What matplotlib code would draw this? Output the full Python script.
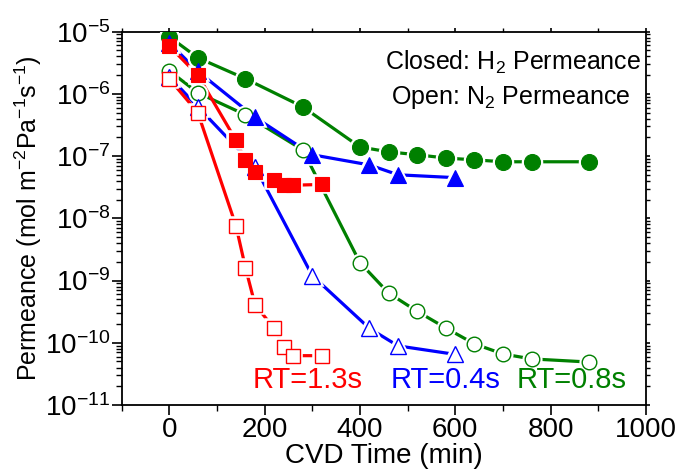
import numpy as np
import matplotlib
matplotlib.use('Agg')
import matplotlib.pyplot as plt
from matplotlib.ticker import FixedLocator, NullFormatter, LogFormatterSciNotation

plt.rcParams['font.family'] = ['Liberation Sans', 'DejaVu Sans']
plt.rcParams['mathtext.fontset'] = 'custom'
plt.rcParams['mathtext.rm'] = 'Liberation Sans'
plt.rcParams['mathtext.it'] = 'Liberation Sans'

# RT = 0.8 s (green)
t_08 = [0, 60, 160, 280, 400, 460, 520, 580, 640, 700, 760, 880]
h2_08 = [8.3e-6, 3.8e-6, 1.75e-6, 6.2e-7, 1.4e-7, 1.17e-7, 1.05e-7, 9.3e-8, 8.7e-8, 8.1e-8, 8.1e-8, 8.1e-8]
n2_08 = [2.35e-6, 1.04e-6, 4.6e-7, 1.26e-7, 1.94e-9, 6.3e-10, 3.2e-10, 1.73e-10, 9.6e-11, 6.6e-11, 5.5e-11, 4.9e-11]

# RT = 0.4 s (blue)
t_04 = [0, 60, 180, 300, 420, 480, 600]
h2_04 = [6.6e-6, 2.3e-6, 4.2e-7, 1.05e-7, 7.2e-8, 5.0e-8, 4.5e-8]
n2_04 = [1.9e-6, 6.2e-7, 6.7e-8, 1.2e-9, 1.7e-10, 8.9e-11, 6.5e-11]

# RT = 1.3 s (red)
t_13 = [0, 60, 140, 160, 180, 220, 240, 260, 320]
h2_13 = [5.9e-6, 2.0e-6, 1.8e-7, 8.5e-8, 5.6e-8, 4.2e-8, 3.4e-8, 3.4e-8, 3.5e-8]
n2_13 = [1.75e-6, 5.0e-7, 7.6e-9, 1.6e-9, 4.1e-10, 1.7e-10, 8.5e-11, 6.2e-11, 6.2e-11]

x_major = [0, 200, 400, 600, 800, 1000]
x_minor = [-100, 100, 300, 500, 700, 900]
y_exp = [-11, -10, -9, -8, -7, -6, -5]

green = '#008000'
blue = '#0000FF'
red = '#FF0000'

fig = plt.figure(figsize=(6.8, 4.72), dpi=100)
ax = fig.add_axes([0.1787, 0.142, 0.7713, 0.791])


def series(x, y, color, marker, ms, filled):
    ax.plot(x, y, '-', color=color, lw=2.3, zorder=2)
    # white halo gives the gap between line and marker
    ax.plot(x, y, ls='none', marker=marker, ms=ms, mfc='white', mec='white', mew=4, zorder=3)
    if filled:
        ax.plot(x, y, ls='none', marker=marker, ms=ms, mfc=color, mec=color, mew=0.8, zorder=4)
    else:
        ax.plot(x, y, ls='none', marker=marker, ms=ms, mfc='white', mec=color, mew=1.0, zorder=4)


series(t_08, h2_08, green, 'o', 11.5, True)
series(t_08, n2_08, green, 'o', 10.5, False)
series(t_04, h2_04, blue, '^', 11.5, True)
series(t_04, n2_04, blue, '^', 11.5, False)
series(t_13, h2_13, red, 's', 9.5, True)
series(t_13, n2_13, red, 's', 9.5, False)

ax.set_yscale('log')
ax.set_xlim(-100, 1000)
ax.set_ylim(1e-11, 1e-5)
ax.xaxis.set_major_locator(FixedLocator(x_major))
ax.xaxis.set_minor_locator(FixedLocator(x_minor))
y_major = [10.0 ** e for e in y_exp]
y_minor = [m * 10.0 ** e for e in y_exp[:-1] for m in range(2, 10)]
ax.yaxis.set_major_locator(FixedLocator(y_major))
ax.yaxis.set_minor_locator(FixedLocator(y_minor))
ax.yaxis.set_major_formatter(LogFormatterSciNotation())
ax.yaxis.set_minor_formatter(NullFormatter())

ax.tick_params(axis='both', which='major', direction='out', length=7, width=1.2, labelsize=20)
ax.tick_params(axis='both', which='minor', direction='out', length=4, width=1.0)
ax.tick_params(axis='y', which='major', pad=1)
ax.tick_params(axis='x', which='major', pad=2)

# top / right decorative ticks
ax.tick_params(top=True, right=True, which='both')
ax.tick_params(axis='x', which='both', top=True, labeltop=False)
for t in ax.xaxis.get_major_ticks() + ax.xaxis.get_minor_ticks():
    t.tick2line.set_markersize(3)
for t in ax.yaxis.get_major_ticks() + ax.yaxis.get_minor_ticks():
    t.tick2line.set_markersize(3)

for sp in ax.spines.values():
    sp.set_linewidth(1.3)

ax.set_xlabel('CVD Time (min)', fontsize=20, labelpad=0)
ax.set_ylabel('Permeance (mol m$^{-2}$Pa$^{-1}$s$^{-1}$)', fontsize=18, labelpad=1)

ax.text(0.99, 0.955, 'Closed: H$_2$ Permeance', transform=ax.transAxes,
        ha='right', va='top', fontsize=18)
ax.text(0.97, 0.86, 'Open: N$_2$ Permeance', transform=ax.transAxes,
        ha='right', va='top', fontsize=18)

ax.text(0.459, 0.03, 'RT=1.3s', transform=ax.transAxes, color=red, ha='right', va='bottom', fontsize=21)
ax.text(0.722, 0.03, 'RT=0.4s', transform=ax.transAxes, color=blue, ha='right', va='bottom', fontsize=21)
ax.text(0.964, 0.03, 'RT=0.8s', transform=ax.transAxes, color=green, ha='right', va='bottom', fontsize=21)

fig.savefig('out.png', dpi=100)
